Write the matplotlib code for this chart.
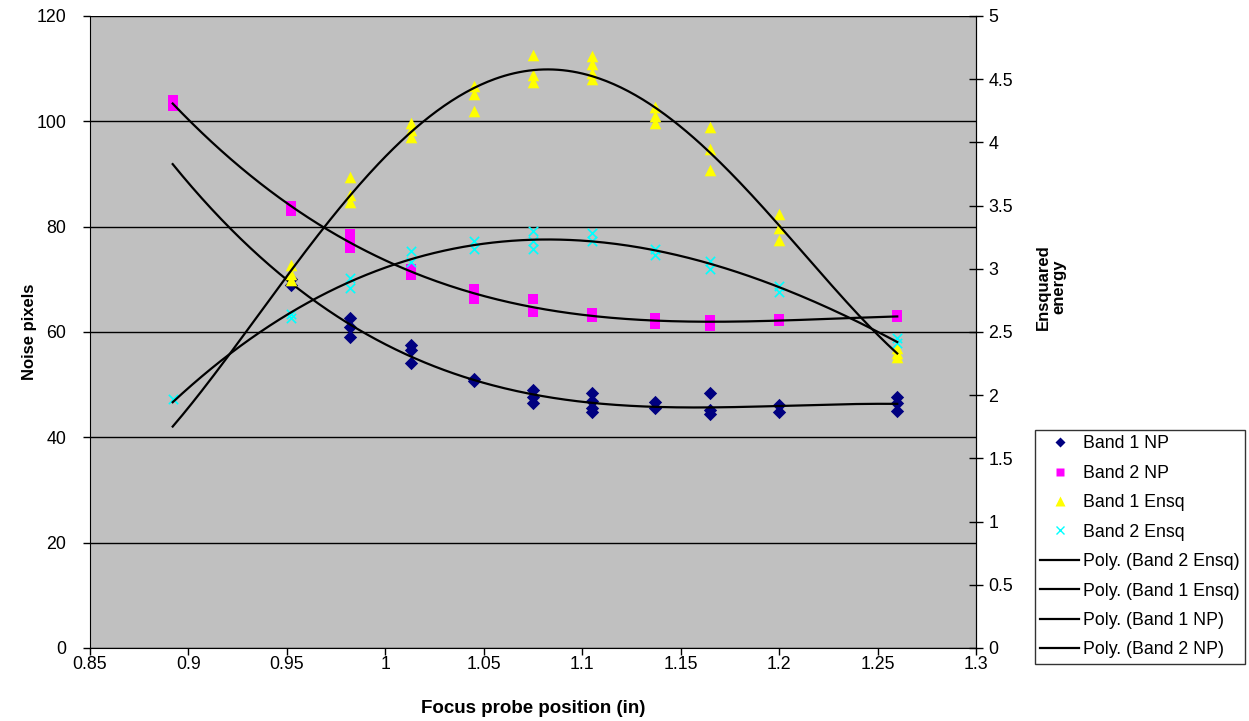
import numpy as np
import matplotlib
matplotlib.use("Agg")
import matplotlib.pyplot as plt
from matplotlib.lines import Line2D
from matplotlib.ticker import FuncFormatter

plt.rcParams['font.family'] = ['Liberation Sans', 'DejaVu Sans']

# ---- data ----
x_pos = [0.892, 0.952, 0.982, 1.013, 1.045, 1.075, 1.105, 1.137, 1.165, 1.2, 1.26]

band1_np = [[], [70, 69], [62.7, 61, 59], [57.5, 56.6, 54.1], [51, 50.7],
            [49, 47.7, 46.5], [48.4, 46.9, 45.6, 44.8], [46.7, 45.6],
            [48.4, 45.2, 44.4], [46.2, 44.8], [47.7, 46.5, 45]]
band2_np = [[104, 103], [84, 83], [78.7, 77, 76], [72, 70.8], [68.2, 66.2],
            [66.2, 63.8], [63.6, 62.8], [62.6, 61.6], [62.2, 61.2], [62.4, 62],
            [63.2, 62.8]]
band1_ensq = [[], [3.03, 2.96, 2.91], [3.73, 3.58, 3.53], [4.15, 4.1, 4.04],
              [4.45, 4.38, 4.25], [4.69, 4.53, 4.48], [4.68, 4.62, 4.55, 4.5],
              [4.28, 4.21, 4.15], [4.12, 3.95, 3.78], [3.43, 3.32, 3.23],
              [2.37, 2.33, 2.3]]
band2_ensq = [[1.97], [2.64, 2.61], [2.93, 2.85], [3.14, 3.05], [3.22, 3.16],
              [3.30, 3.22, 3.16], [3.28, 3.22], [3.16, 3.11], [3.06, 3.0],
              [2.86, 2.82], [2.45, 2.41]]

# polynomial trendline orders
order_band1_np = 3
order_band2_np = 3
order_band1_ensq = 4
order_band2_ensq = 3

x_ticks = [0.85, 0.9, 0.95, 1.0, 1.05, 1.1, 1.15, 1.2, 1.25, 1.3]
left_ticks = [0, 20, 40, 60, 80, 100, 120]
right_ticks = [0, 0.5, 1, 1.5, 2, 2.5, 3, 3.5, 4, 4.5, 5]


def flatten(groups):
    xs, ys = [], []
    for xv, g in zip(x_pos, groups):
        for v in g:
            xs.append(xv)
            ys.append(v)
    return np.array(xs), np.array(ys)


W, H = 1249, 721
fig = plt.figure(figsize=(W / 100, H / 100), dpi=100)
fig.patch.set_facecolor('white')
L, R, T, B = 90, 976, 16, 648
ax = fig.add_axes([L / W, 1 - B / H, (R - L) / W, (B - T) / H])
ax.set_facecolor('#C0C0C0')
ax2 = ax.twinx()
ax2.patch.set_visible(False)

FS = 12.8
FSV = 12

x1n, y1n = flatten(band1_np)
x2n, y2n = flatten(band2_np)
x1e, y1e = flatten(band1_ensq)
x2e, y2e = flatten(band2_ensq)

xfit = np.linspace(min(x_pos), max(x_pos), 300)

ax.scatter(x1n, y1n, marker='D', s=46, color='#000080', zorder=3, linewidths=0)
ax.scatter(x2n, y2n, marker='s', s=55, color='#FF00FF', zorder=3, linewidths=0)
ax2.scatter(x1e, y1e, marker='^', s=70, color='#FFFF00', zorder=3, linewidths=0)
ax2.scatter(x2e, y2e, marker='x', s=45, color='#00FFFF', zorder=3, linewidths=1.2)

for xs, ys, deg, a in [(x2e, y2e, order_band2_ensq, ax2), (x1e, y1e, order_band1_ensq, ax2),
                       (x1n, y1n, order_band1_np, ax), (x2n, y2n, order_band2_np, ax)]:
    c = np.polyfit(xs, ys, deg)
    a.plot(xfit, np.polyval(c, xfit), color='black', lw=1.6, zorder=4)

ax.set_xlim(0.85, 1.3)
ax.set_ylim(0, 120)
ax2.set_ylim(0, 5)
ax.set_xticks(x_ticks)
ax.set_yticks(left_ticks)
ax2.set_yticks(right_ticks)
fmt = FuncFormatter(lambda v, p: '{:g}'.format(round(v, 3)))
ax.xaxis.set_major_formatter(fmt)
ax2.yaxis.set_major_formatter(fmt)

ax.yaxis.grid(True, color='black', lw=1.0)
ax.set_axisbelow(True)
for a in (ax, ax2):
    a.spines['top'].set_visible(False)
ax2.spines['left'].set_visible(False)
ax2.spines['bottom'].set_visible(False)
for s in ('left', 'bottom'):
    ax.spines[s].set_color('black')
ax2.spines['right'].set_color('black')

ax.tick_params(axis='y', labelsize=FS, length=5, width=1, direction='out', colors='black', pad=12)
ax.tick_params(axis='x', labelsize=FS, length=5, width=1, direction='out', colors='black', pad=1)
ax2.tick_params(axis='y', labelsize=FS, length=10, width=1, direction='inout', colors='black', pad=4)

ax.set_xlabel('Focus probe position (in)', fontsize=13.5, fontweight='bold', labelpad=19)
ax.set_ylabel('Noise pixels', fontsize=FSV, fontweight='bold', labelpad=0)
fig.text(1051 / W, 1 - 287 / H, 'Ensquared\nenergy', rotation=90, ha='center', va='center',
         fontsize=FSV, fontweight='bold', multialignment='center', linespacing=1.05)

handles = [
    Line2D([], [], ls='none', marker='D', ms=5.5, color='#000080', mec='none'),
    Line2D([], [], ls='none', marker='s', ms=6, color='#FF00FF', mec='none'),
    Line2D([], [], ls='none', marker='^', ms=7, color='#FFFF00', mec='none'),
    Line2D([], [], ls='none', marker='x', ms=6, color='#00FFFF', mew=1),
    Line2D([], [], color='black', lw=1.6),
    Line2D([], [], color='black', lw=1.6),
    Line2D([], [], color='black', lw=1.6),
    Line2D([], [], color='black', lw=1.6),
]
labels = ['Band 1 NP', 'Band 2 NP', 'Band 1 Ensq', 'Band 2 Ensq',
          'Poly. (Band 2 Ensq)', 'Poly. (Band 1 Ensq)', 'Poly. (Band 1 NP)', 'Poly. (Band 2 NP)']
leg = fig.legend(handles, labels, loc='upper left',
                 bbox_to_anchor=(1035 / W, 1 - 430 / H), borderaxespad=0,
                 fontsize=FS, frameon=True, fancybox=False, edgecolor='black',
                 handlelength=2.2, handletextpad=0.2, labelspacing=0.7,
                 borderpad=0.3)
leg.get_frame().set_linewidth(1.0)

fig.savefig('out.png', dpi=100)
